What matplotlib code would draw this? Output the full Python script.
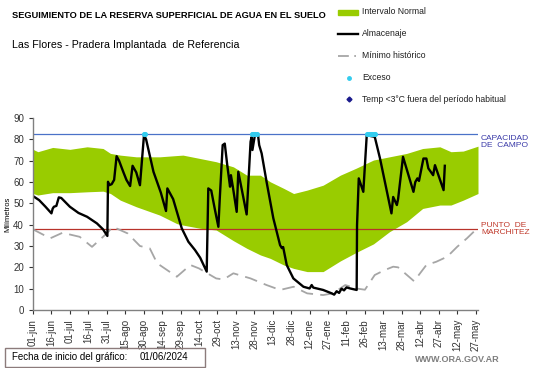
import matplotlib
matplotlib.use('Agg')
import matplotlib.pyplot as plt
from matplotlib.lines import Line2D
from matplotlib.patches import Rectangle

plt.rcParams['font.family'] = ['Liberation Sans', 'DejaVu Sans']

# dias desde 01/06/2024
band_days = [0, 4, 16, 30, 44, 57, 63, 71, 84, 103, 117, 122, 136, 149, 163, 174, 185, 193, 204, 212,
             223, 236, 250, 263, 277, 290, 304, 317, 331, 340, 350, 362]
band_upper = [75.3, 74.2, 76.2, 75.3, 76.5, 75.7, 73.4, 72.6, 71.8, 71.8, 72.4, 72.6, 71.0, 69.5, 67.1, 63.2,
              63.2, 60.1, 57.0, 54.6, 56.2, 58.5, 63.2, 66.5, 70.3, 71.8, 73.4, 75.7, 76.5, 74.2, 74.5, 76.8]
band_lower = [54.6, 53.9, 55.0, 55.0, 55.4, 55.7, 54.6, 51.5, 48.4, 44.5, 40.5, 39.8, 38.3, 37.5, 32.5, 28.9,
              25.8, 24.2, 21.1, 19.5, 18.0, 18.0, 23.0, 27.0, 31.0, 36.7, 41.4, 47.6, 49.2, 49.2, 51.5, 54.6]

min_days = [0, 14, 24, 38, 48, 60, 65, 77, 87, 95, 101, 117, 128, 135, 149, 155, 163, 177, 190, 201, 212,
            223, 236, 244, 254, 263, 270, 278, 286, 293, 297, 310, 320, 328, 337, 345, 353, 360]
min_vals = [37.8, 33.6, 36.2, 34.3, 29.6, 35.9, 39.0, 35.9, 30.0, 28.9, 21.9, 15.6, 21.1, 19.5, 14.8, 14.3,
            17.2, 14.8, 11.7, 9.4, 10.9, 7.8, 7.0, 7.8, 11.7, 10.1, 9.5, 16.4, 18.7, 20.3, 20.0, 13.5, 21.1,
            22.6, 25.0, 29.6, 33.6, 37.5]

alm_days = [0, 5, 10, 15, 16, 17, 19, 21, 23, 30, 37, 44, 52, 57, 60.5, 61, 62, 64, 66, 68, 70, 73.4, 76,
            79, 81, 84, 87, 90.3, 92, 98, 104, 108.2, 109.3, 114, 121, 126.4, 131.8, 136, 141.3, 142.6, 145,
            148, 150.8, 152, 154.3, 156, 158, 160.3, 161, 162.5, 165.7, 167, 170, 173.8, 177, 177.8, 178.5,
            180.6, 183, 184, 186, 190, 195.5, 201, 202.5, 203.5, 206.4, 211.8, 220, 225, 226.7, 228, 236,
            243, 245, 247, 249, 251, 253, 255, 258, 263.3, 263.6, 265, 268.7, 271.5, 275, 278, 282.3, 291.6,
            293, 296, 297, 301, 309.5, 311, 312.7, 314, 317.6, 320, 321.6, 325.5, 327, 334, 335]
alm_vals = [53.4, 51.5, 48.5, 45.3, 47.5, 48.4, 48.8, 52.8, 52.5, 48.4, 45.5, 43.7, 40.6, 37.8, 34.7, 60.1,
            58.5, 59.0, 61.0, 72.1, 70.0, 64.8, 61.0, 58.1, 67.6, 64.5, 58.5, 82.0, 80.0, 64.8, 55.0, 46.4,
            57.0, 52.0, 38.3, 32.0, 28.1, 24.5, 18.0, 57.0, 56.0, 47.0, 39.0, 53.0, 77.3, 78.0, 68.0, 57.8,
            63.2, 58.0, 46.0, 64.8, 56.0, 44.8, 78.9, 81.0, 75.0, 82.3, 82.3, 77.3, 73.4, 60.1, 43.0, 30.4,
            29.0, 29.5, 21.1, 14.8, 10.9, 10.1, 11.7, 10.5, 9.4, 7.8, 7.2, 8.8, 8.0, 10.0, 9.2, 10.6, 10.1,
            9.4, 39.8, 61.7, 55.4, 82.0, 81.5, 81.2, 71.0, 45.3, 53.0, 49.2, 52.0, 71.8, 55.4, 60.0, 61.7,
            60.5, 71.0, 71.0, 66.4, 63.2, 67.9, 56.2, 67.6]

exceso_days = [90, 91, 178, 179, 180, 181, 182, 272, 273, 274, 275, 276, 277, 278]
capacidad = 82.3
marchitez = 37.8

tick_days = list(range(0, 361, 15))
tick_labels = ['01-jun', '16-jun', '01-jul', '16-jul', '31-jul', '15-ago', '30-ago', '14-sep', '29-sep',
               '14-oct', '29-oct', '13-nov', '28-nov', '13-dic', '28-dic', '12-ene', '27-ene', '11-feb',
               '26-feb', '13-mar', '28-mar', '12-abr', '27-abr', '12-may', '27-may']

W, H = 541, 368
fig = plt.figure(figsize=(W / 100, H / 100), dpi=100)
ax = fig.add_axes([33 / W, 1 - 310 / H, 445 / W, 192 / H])

green = '#99cc00'
ax.fill_between(band_days, band_lower, band_upper, color=green, lw=0)
ax.axhline(capacidad, color='#4a72c8', lw=0.9)
ax.axhline(marchitez, color='#b8322a', lw=0.9)
ax.plot(min_days, min_vals, color='#a6a6a6', lw=1.3, dashes=(7, 4))
ax.plot(alm_days, alm_vals, color='black', lw=1.7)
ax.scatter(exceso_days, [capacidad] * len(exceso_days), s=7, color='#33ccee', zorder=5)

ax.set_xlim(0, 362)
ax.set_ylim(0, 90)
ax.set_yticks(range(0, 91, 10))
ax.set_xticks(tick_days)
ax.set_xticklabels(tick_labels, rotation=90)
ax.tick_params(labelsize=7, colors='#333333', length=3, width=0.8)
for s in ['top', 'right']:
    ax.spines[s].set_visible(False)
for s in ['left', 'bottom']:
    ax.spines[s].set_color('#808080')
    ax.spines[s].set_linewidth(1.0)
ax.set_ylabel('Milímetros', fontsize=5.5, labelpad=1)

fig.text(12 / W, 1 - 16 / H, 'SEGUIMIENTO DE LA RESERVA SUPERFICIAL DE AGUA EN EL SUELO',
         fontsize=6.7, fontweight='bold', va='center')
fig.text(12 / W, 1 - 45 / H, 'Las Flores - Pradera Implantada  de Referencia', fontsize=7.7, va='center')

fig.text(481 / W, 1 - 142 / H, 'CAPACIDAD\nDE  CAMPO', fontsize=6, color='#3a3aa8', va='center',
         linespacing=1.1)
fig.text(481 / W, 1 - 229 / H, 'PUNTO  DE\nMARCHITEZ', fontsize=6, color='#c0392b', va='center',
         linespacing=1.1)

# leyenda
ly = [12, 34, 56, 78, 99]
fig.add_artist(Rectangle((338 / W, 1 - 15 / H), 20 / W, 5 / H, color=green, transform=fig.transFigure))
fig.add_artist(Line2D([338 / W, 358 / W], [1 - ly[1] / H] * 2, color='black', lw=1.7))
fig.add_artist(Line2D([338 / W, 356 / W], [1 - ly[2] / H] * 2, color='#a6a6a6', lw=1.3, dashes=(6, 3)))
fig.add_artist(Line2D([349 / W], [1 - ly[3] / H], marker='o', ms=2.5, color='#33ccee', lw=0))
fig.add_artist(Line2D([349 / W], [1 - ly[4] / H], marker='D', ms=2.5, color='#1a1a8c', lw=0))
labels = ['Intervalo Normal', 'Almacenaje', 'Mínimo histórico', 'Exceso',
          'Temp <3°C fuera del período habitual']
for y, t in zip(ly, labels):
    fig.text(362 / W, 1 - y / H, t, fontsize=6.2, va='center', color='#202020')

fig.add_artist(Rectangle((5 / W, 1 - 367 / H), 200 / W, 19 / H, fill=False, ec='#8c7b7b', lw=1.0,
                         transform=fig.transFigure))
fig.text(12 / W, 1 - 357 / H, 'Fecha de inicio del gráfico:', fontsize=7, va='center')
fig.text(140 / W, 1 - 357 / H, '01/06/2024', fontsize=7, va='center')
fig.text(500 / W, 1 - 360 / H, 'WWW.ORA.GOV.AR', fontsize=6.5, fontweight='bold', color='#7f7f7f',
         ha='right', va='center')

fig.savefig('out.png', dpi=100)
